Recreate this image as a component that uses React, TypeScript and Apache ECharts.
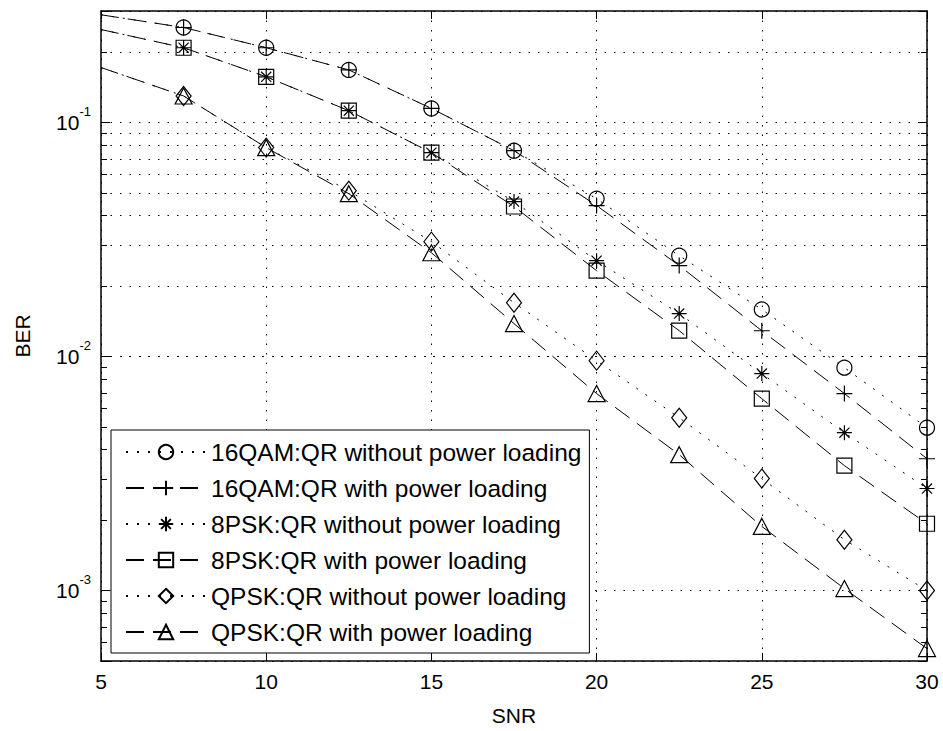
import React, { useEffect, useRef } from 'react';
import * as echarts from 'echarts';

// SNR values (dB)
const snr = [5, 7.5, 10, 12.5, 15, 17.5, 20, 22.5, 25, 27.5, 30];

// BER values
const qam16NoPL = [0.289, 0.255, 0.209, 0.168, 0.115, 0.0759, 0.0473, 0.027, 0.0159, 0.00897, 0.00497];
const qam16PL = [0.289, 0.255, 0.209, 0.168, 0.115, 0.0759, 0.0442, 0.0245, 0.0129, 0.00695, 0.00366];
const psk8NoPL = [0.25, 0.209, 0.157, 0.1125, 0.0744, 0.046, 0.0257, 0.01527, 0.00846, 0.00473, 0.00273];
const psk8PL = [0.25, 0.209, 0.157, 0.1125, 0.0744, 0.0438, 0.0233, 0.01291, 0.00661, 0.00342, 0.00193];
const qpskNoPL = [0.172, 0.13, 0.0782, 0.0512, 0.031, 0.017, 0.00961, 0.00548, 0.00301, 0.00165, 0.001];
const qpskPL = [0.172, 0.13, 0.0782, 0.0497, 0.0278, 0.01384, 0.00695, 0.00381, 0.00188, 0.00102, 0.000565];

const seriesNames = [
  '16QAM:QR without power loading',
  '16QAM:QR with power loading',
  '8PSK:QR without power loading',
  '8PSK:QR with power loading',
  'QPSK:QR without power loading',
  'QPSK:QR with power loading',
];

// axis ranges and tick values
const xMin = 5;
const xMax = 30;
const xStep = 5;
const yMin = 0.0005;
const yMax = 0.3;
const yMinorTicks = [
  0.0006, 0.0007, 0.0008, 0.0009,
  0.002, 0.003, 0.004, 0.005, 0.006, 0.007, 0.008, 0.009,
  0.02, 0.03, 0.04, 0.05, 0.06, 0.07, 0.08, 0.09,
  0.2,
];

const FONT = "'Liberation Sans', Arial, Helvetica, sans-serif";
const GRID_DOT: number[] = [1.5, 8];
const DOTTED: number[] = [2, 9];
const DASHED: number[] = [18, 9];

const PLUS = 'path://M8,0L8,16M0,8L16,8';
const STAR = 'path://M8,0L8,16M0,8L16,8M2.6,2.6L13.4,13.4M2.6,13.4L13.4,2.6';

export default function App() {
  const ref = useRef<HTMLDivElement>(null);

  useEffect(() => {
    if (!ref.current) return;
    const chart = echarts.init(ref.current, null, { renderer: 'svg' });

    const mk = (name: string, values: number[], symbol: string, symbolSize: any, dashed: boolean, extra: any = {}) => ({
      name,
      type: 'line',
      data: snr.map((x, i) => (i === 0 ? { value: [x, values[i]], symbol: 'none' } : [x, values[i]])),
      symbol,
      symbolSize,
      showSymbol: true,
      showAllSymbol: true,
      clip: false,
      silent: true,
      z: 3,
      lineStyle: { color: '#000', width: 1, type: dashed ? DASHED : DOTTED },
      itemStyle: { color: 'rgba(0,0,0,0)', borderColor: '#000', borderWidth: 1.2 },
      emphasis: { disabled: true },
      ...extra,
    });

    // minor grid lines and minor ticks drawn through the axes' own scale
    const tickLen = 0.18;
    const gridLines = yMinorTicks.map((v) => ({ yAxis: v }));
    const leftTicks = yMinorTicks.map((v) => [
      { coord: [xMin, v], lineStyle: { type: 'solid', width: 1 } },
      { coord: [xMin + tickLen, v] },
    ]);
    const rightTicks = yMinorTicks.map((v) => [
      { coord: [xMax - tickLen, v], lineStyle: { type: 'solid', width: 1 } },
      { coord: [xMax, v] },
    ]);

    const option: any = {
      animation: false,
      backgroundColor: '#fff',
      textStyle: { fontFamily: FONT, color: '#000' },
      grid: { left: 101, right: 16, top: 11, bottom: 69, show: false },
      legend: {
        left: 111,
        top: 430,
        orient: 'vertical',
        backgroundColor: '#fff',
        borderColor: '#000',
        borderWidth: 1,
        borderRadius: 0,
        padding: [9, 8, 8, 14],
        itemWidth: 80,
        itemHeight: 18,
        itemGap: 10,
        selectedMode: false,
        textStyle: { fontFamily: FONT, fontSize: 24.5, color: '#000', lineHeight: 26 },
        data: seriesNames,
        z: 10,
      },
      xAxis: [
        {
          type: 'value',
          min: xMin,
          max: xMax,
          interval: xStep,
          name: 'SNR',
          nameLocation: 'middle',
          nameGap: 44,
          nameTextStyle: { fontFamily: FONT, fontSize: 21, color: '#000' },
          axisLine: { show: true, lineStyle: { color: '#000', width: 1.5 } },
          axisTick: { show: true, inside: true, length: 8, lineStyle: { color: '#000', width: 1 } },
          axisLabel: { fontFamily: FONT, fontSize: 21, color: '#000', margin: 10 },
          splitLine: { show: true, lineStyle: { color: '#000', width: 1, type: GRID_DOT } },
        },
        {
          type: 'value',
          position: 'top',
          min: xMin,
          max: xMax,
          interval: xStep,
          axisLine: { show: true, lineStyle: { color: '#000', width: 1.5 } },
          axisTick: { show: true, inside: true, length: 8, lineStyle: { color: '#000', width: 1 } },
          axisLabel: { show: false },
          splitLine: { show: false },
        },
      ],
      yAxis: [
        {
          type: 'log',
          logBase: 10,
          min: yMin,
          max: yMax,
          name: 'BER',
          nameLocation: 'middle',
          nameGap: 68,
          nameRotate: 90,
          nameTextStyle: { fontFamily: FONT, fontSize: 21, color: '#000' },
          axisLine: { show: true, lineStyle: { color: '#000', width: 1.5 } },
          axisTick: { show: true, inside: true, length: 9, lineStyle: { color: '#000', width: 1 } },
          axisLabel: {
            margin: 10,
            formatter: (v: number) => {
              const e = Math.log10(v);
              const r = Math.round(e);
              if (Math.abs(e - r) > 1e-6) return '';
              return `{b|10}{s|${r}}`;
            },
            rich: {
              b: { fontFamily: FONT, fontSize: 21, color: '#000' },
              s: { fontFamily: FONT, fontSize: 13, color: '#000', lineHeight: 13, padding: [0, 0, 23, 0] },
            },
          },
          splitLine: { show: true, lineStyle: { color: '#000', width: 1, type: GRID_DOT } },
        },
        {
          type: 'log',
          logBase: 10,
          position: 'right',
          min: yMin,
          max: yMax,
          axisLine: { show: true, lineStyle: { color: '#000', width: 1.5 } },
          axisTick: { show: true, inside: true, length: 9, lineStyle: { color: '#000', width: 1 } },
          axisLabel: { show: false },
          splitLine: { show: false },
        },
      ],
      series: [
        mk(seriesNames[0], qam16NoPL, 'circle', 15, false, {
          markLine: {
            silent: true,
            symbol: ['none', 'none'],
            label: { show: false },
            emphasis: { disabled: true },
            lineStyle: { color: '#000', width: 1, type: GRID_DOT },
            data: [...gridLines, ...leftTicks, ...rightTicks],
            z: 1,
          },
        }),
        mk(seriesNames[1], qam16PL, PLUS, 16, true),
        mk(seriesNames[2], psk8NoPL, STAR, 15, false),
        mk(seriesNames[3], psk8PL, 'rect', 15, true),
        mk(seriesNames[4], qpskNoPL, 'diamond', [15, 19], false),
        mk(seriesNames[5], qpskPL, 'triangle', [17, 16], true),
      ],
    };

    chart.setOption(option);
    return () => chart.dispose();
  }, []);

  return (
    <div
      ref={ref}
      style={{ position: 'fixed', left: 0, top: 0, width: 943, height: 731, background: '#fff' }}
    />
  );
}
